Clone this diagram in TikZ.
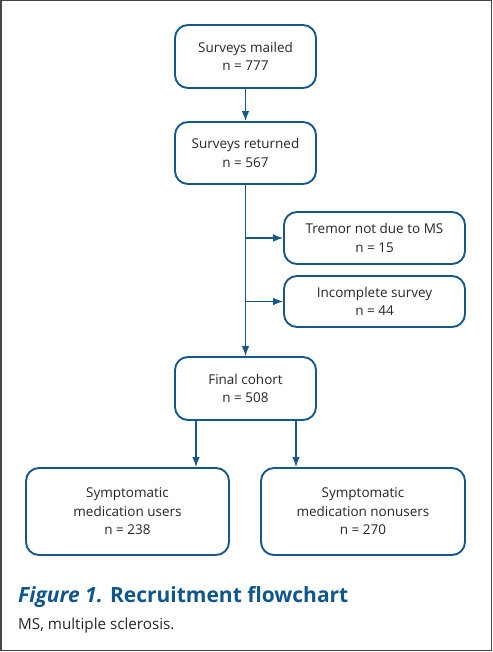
\documentclass[tikz,border=0pt]{standalone}
\usepackage{fontspec}
\setmainfont{Open Sans}
\usetikzlibrary{arrows.meta}
\definecolor{boxblue}{RGB}{22,88,140}
\definecolor{capblue}{RGB}{16,86,140}
\definecolor{framegray}{RGB}{70,70,70}
\begin{document}
\begin{tikzpicture}[x=1pt,y=-1pt,
  box/.style={draw=boxblue,line width=1.9pt,rounded corners=13pt,align=center,
    font=\fontsize{13.5}{18.5}\selectfont,text=black!85,inner sep=0pt},
  arr/.style={draw=boxblue,line width=1.1pt,-{Latex[length=10pt,width=7.5pt]}},
  ln/.style={draw=boxblue,line width=1.1pt}]
\useasboundingbox (0,0) rectangle (492,652);
\draw[framegray,line width=1.5pt] (0.75,0.75) rectangle (491.25,650.5);
\node[box,minimum width=141pt,minimum height=63pt] (mailed) at (245.5,56.5) {Surveys mailed\\n = 777};
\node[box,minimum width=141pt,minimum height=62pt] (returned) at (245.5,153) {Surveys returned\\n = 567};
\node[box,minimum width=181pt,minimum height=52pt] (tremor) at (374.5,238) {Tremor not due to MS\\n = 15};
\node[box,minimum width=181pt,minimum height=51pt] (incomplete) at (374.5,301.5) {Incomplete survey\\n = 44};
\node[box,minimum width=141pt,minimum height=63pt] (final) at (245.5,388.5) {Final cohort\\n = 508};
\node[box,minimum width=203pt,minimum height=87pt] (users) at (127.5,511.5) {Symptomatic\\medication users\\n = 238};
\node[box,minimum width=204pt,minimum height=87pt] (nonusers) at (363,511.5) {Symptomatic\\medication nonusers\\n = 270};
\draw[arr] (mailed) -- (returned);
\draw[arr] (returned) -- (final);
\coordinate (b1) at (returned.south |- tremor.west);
\coordinate (b2) at (returned.south |- incomplete.west);
\draw[arr] (b1) -- (tremor.west);
\draw[arr] (b2) -- (incomplete.west);
\coordinate (u1) at (196,0);
\coordinate (u2) at (296,0);
\draw[arr] (final.south -| u1) -- (users.north -| u1);
\draw[arr] (final.south -| u2) -- (nonusers.north -| u2);
\node[anchor=base west,inner sep=0pt,text=capblue,font=\fontsize{21}{25}\selectfont\bfseries] (cap) at (18,602) {\textit{Figure 1.} Recruitment flowchart};
\node[anchor=base west,inner sep=0pt,text=black!85,font=\fontsize{15.2}{18}\selectfont] (note) at (18,629) {MS, multiple sclerosis.};
\end{tikzpicture}
\end{document}
